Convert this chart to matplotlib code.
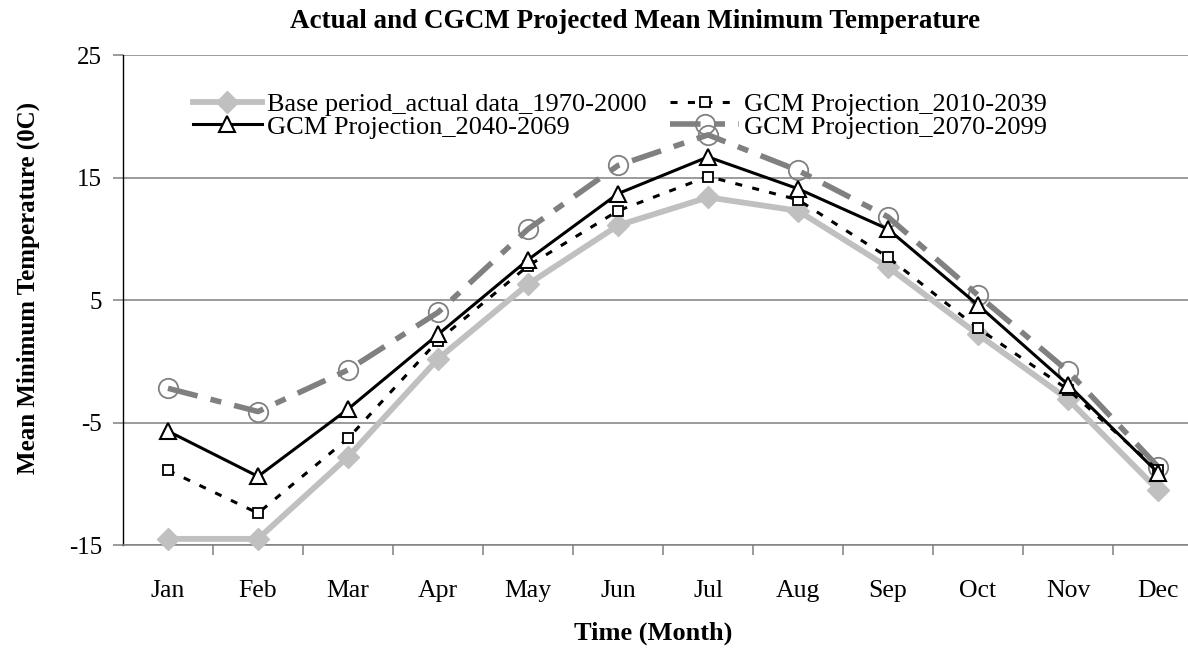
import matplotlib
matplotlib.use('Agg')
import matplotlib.pyplot as plt
import numpy as np

plt.rcParams['font.family'] = ['Liberation Serif', 'DejaVu Serif']

# ---------- data ----------
months = ['Jan', 'Feb', 'Mar', 'Apr', 'May', 'Jun',
          'Jul', 'Aug', 'Sep', 'Oct', 'Nov', 'Dec']
base_1970_2000 = [-14.5, -14.5, -7.8, 0.2, 6.3, 11.1, 13.4, 12.3, 7.7, 2.2, -3.1, -10.5]
gcm_2010_2039 = [-8.9, -12.4, -6.3, 1.7, 7.8, 12.3, 15.1, 13.2, 8.5, 2.7, -2.3, -8.9]
gcm_2040_2069 = [-5.7, -9.4, -3.9, 2.2, 8.3, 13.7, 16.7, 14.1, 10.8, 4.6, -1.9, -9.1]
gcm_2070_2099 = [-2.2, -4.1, -0.7, 4.0, 10.8, 16.0, 18.5, 15.6, 11.8, 5.4, -0.8, -8.6]
y_ticks = [-15, -5, 5, 15, 25]

W, H = 1188, 648
fig = plt.figure(figsize=(W / 100, H / 100), dpi=100)
# plot area runs a little past the right edge, as in the reference
ax = fig.add_axes([123 / W, 1 - 545 / H, 1080 / W, (545 - 55.3) / H])

x = np.arange(len(months))

l_base, = ax.plot(x, base_1970_2000, color='#c0c0c0', lw=4.2, marker='D', ms=11,
                  mfc='#c0c0c0', mec='#c0c0c0', label='Base period_actual data_1970-2000',
                  zorder=3, clip_on=False)
l_2010, = ax.plot(x, gcm_2010_2039, color='black', lw=2.2, dashes=(2.3, 3.4),
                  marker='s', ms=7.5, mfc='white', mec='black', mew=1.3,
                  label='GCM Projection_2010-2039', zorder=4, clip_on=False)
l_2040, = ax.plot(x, gcm_2040_2069, color='black', lw=2.2, marker='^', ms=11,
                  mfc='white', mec='black', mew=1.5,
                  label='GCM Projection_2040-2069', zorder=5, clip_on=False)
l_2070, = ax.plot(x, gcm_2070_2099, color='#808080', lw=4, dashes=(5.5, 2.4, 2.0, 2.4),
                  marker='o', ms=14, mfc='none', mec='#808080', mew=1.3,
                  label='GCM Projection_2070-2099', zorder=2, clip_on=False)

ax.set_xlim(-0.5, len(months) - 0.5)
ax.set_ylim(-15, 25)
ax.set_yticks(y_ticks)
ax.set_yticklabels([str(v) for v in y_ticks])
ax.yaxis.grid(True, color='#808080', lw=1.1)
ax.set_axisbelow(True)

# category boundaries get the tick marks, month names sit between them
ax.set_xticks(x + 0.5)
ax.set_xticklabels([])
ax.set_xticks(x, minor=True)
ax.set_xticklabels(months, minor=True)
ax.tick_params(axis='x', which='major', length=7, width=1.1, color='#808080', direction='out')
ax.tick_params(axis='x', which='minor', length=0, pad=25, labelsize=18.5)
ax.tick_params(axis='y', length=7, width=1.1, color='#808080', pad=8, labelsize=18)

for s in ['top', 'right']:
    ax.spines[s].set_visible(False)
ax.spines['left'].set_color('black')
ax.spines['left'].set_linewidth(1.0)
ax.spines['bottom'].set_color('#808080')
ax.spines['bottom'].set_linewidth(1.1)

fig.text(635 / W, 1 - 21 / H, 'Actual and CGCM Projected Mean Minimum Temperature',
         ha='center', va='center', fontsize=19.5, fontweight='bold')
fig.text(28 / W, 1 - 288 / H, 'Mean Minimum Temperature (0C)', rotation=90,
         ha='center', va='center', fontsize=18, fontweight='bold')
fig.text(653 / W, 1 - 633 / H, 'Time (Month)', ha='center', va='center',
         fontsize=19, fontweight='bold')

# legend: row 1 = base | 2010, row 2 = 2040 | 2070 (matplotlib fills by column)
ax.legend(handles=[l_base, l_2040, l_2010, l_2070], ncol=2, frameon=False,
          loc='upper left', bbox_to_anchor=(193 / W, 1 - 93 / H),
          bbox_transform=fig.transFigure, borderaxespad=0, borderpad=0,
          fontsize=19, handlelength=2.6, handletextpad=0.2, columnspacing=0.9,
          labelspacing=-0.05)

fig.savefig('out.png', dpi=100)
